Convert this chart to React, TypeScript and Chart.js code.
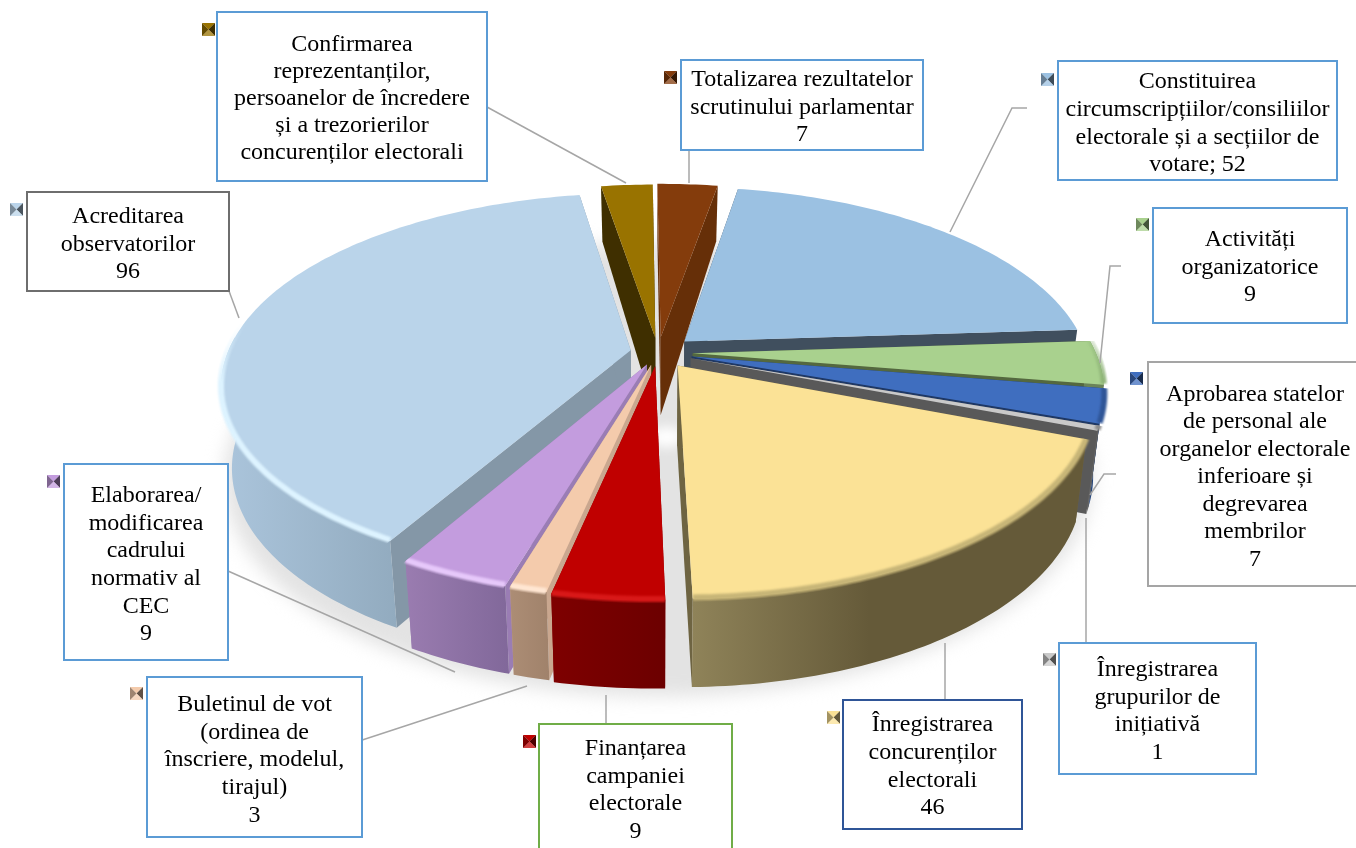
import React, { useEffect, useRef } from "react";
import { Chart, registerables } from "chart.js";

Chart.register(...registerables);

const categories = [
  "Totalizarea rezultatelor scrutinului parlamentar",
  "Constituirea circumscripțiilor/consiliilor electorale și a secțiilor de votare",
  "Activități organizatorice",
  "Aprobarea statelor de personal ale organelor electorale inferioare și degrevarea membrilor",
  "Înregistrarea grupurilor de inițiativă",
  "Înregistrarea concurenților electorali",
  "Finanțarea campaniei electorale",
  "Buletinul de vot (ordinea de înscriere, modelul, tirajul)",
  "Elaborarea/modificarea cadrului normativ al CEC",
  "Acreditarea observatorilor",
  "Confirmarea reprezentanților, persoanelor de încredere și a trezorierilor concurenților electorali",
];
const values = [7, 52, 9, 7, 1, 46, 9, 3, 9, 96, 6];

const labelLines = [
  ["Totalizarea rezultatelor", "scrutinului parlamentar", "7"],
  ["Constituirea", "circumscripțiilor/consiliilor", "electorale și a secțiilor de", "votare; 52"],
  ["Activități", "organizatorice", "9"],
  ["Aprobarea statelor", "de personal ale", "organelor electorale", "inferioare și", "degrevarea", "membrilor", "7"],
  ["Înregistrarea", "grupurilor de", "inițiativă", "1"],
  ["Înregistrarea", "concurenților", "electorali", "46"],
  ["Finanțarea", "campaniei", "electorale", "9"],
  ["Buletinul de vot", "(ordinea de", "înscriere, modelul,", "tirajul)", "3"],
  ["Elaborarea/", "modificarea", "cadrului", "normativ al", "CEC", "9"],
  ["Acreditarea", "observatorilor", "96"],
  ["Confirmarea", "reprezentanților,", "persoanelor de încredere", "și a trezorierilor", "concurenților electorali"],
];

const topColors = ["#843C0C", "#9BC1E2", "#A9D18E", "#3F6EBF", "#C9C9C9", "#FBE296", "#C00000", "#F4CBAC", "#C39CDE", "#BAD4EA", "#997300"];
const wallLight = ["#662F08", "#5F7A94", "#6B8459", "#28497F", "#6A6A6A", "#8F8359", "#7E0000", "#AC8D75", "#9A7CB0", "#ABC5DC", "#3F2F00"];
const wallDark = ["#662F08", "#5F7A94", "#6B8459", "#1F3864", "#5F5F5F", "#655A39", "#6C0000", "#A0826B", "#81689A", "#92ABBF", "#3F2F00"];
const radialColors = ["#662F08", "#404F5E", "#54683F", "#1F3864", "#595959", "#6E6442", "#8A0000", "#C9A78F", "#9A7DB4", "#8497A7", "#3F2F00"];
const rimColors = ["#843C0C", "#9BC1E2", "#8FB478", "#2F5597", "#8A8A8A", "#C7B577", "#D81818", "#FFE6D2", "#E6C8FA", "#DDF3FF", "#997300"];
const explode = [34, 36, 35, 35, 35, 34, 30, 28, 28, 28, 32];
const paintOrder = [9, 10, 1, 2, 3, 4, 0, 8, 7, 6, 5];

const boxRects = [
  [681, 60, 923, 150], [1058, 61, 1337, 180], [1153, 208, 1347, 323], [1148, 362, 1360, 586],
  [1059, 643, 1256, 774], [843, 700, 1022, 829], [539, 724, 732, 852], [147, 677, 362, 837],
  [64, 464, 228, 660], [27, 192, 229, 291], [217, 12, 487, 181],
];
const boxBorders = ["#5B9BD5", "#5B9BD5", "#5B9BD5", "#A5A5A5", "#5B9BD5", "#2F5597", "#70AD47", "#5B9BD5", "#5B9BD5", "#6E6E6E", "#5B9BD5"];
const firstLineY = [80, 82, 240, 394.5, 670, 725, 749, 705, 496, 217, 44.5];
const lineStep = [27.5, 27.7, 27.5, 27.5, 27.5, 27.7, 27.5, 27.6, 27.6, 27.5, 27];
const keyPos = [
  [664, 71], [1041, 73], [1136, 218], [1130, 372], [1043, 653], [827, 711], [523, 735], [130, 687], [47, 475], [10, 203], [202, 23],
];
const leaders = [
  [[689, 151], [689, 183]],
  [[1027, 108], [1012, 108], [950, 232]],
  [[1121, 266], [1110, 266], [1100, 363]],
  [[1116, 474], [1104, 474], [1090, 495]],
  [[1086, 645], [1086, 518]],
  [[945, 700], [945, 643]],
  [[606, 723], [606, 695]],
  [[347, 745], [527, 686]],
  [[228, 571], [455, 672]],
  [[229, 291], [239, 318]],
  [[487, 107], [626, 183]],
];

// view of the pie plane
const cx = 658, cy = 352.5, sx = 403, sy = 186, persp = 0.18, shrink = 0.975;

function project(px: number, py: number, bottom: boolean) {
  const w = 1 - persp * py;
  const X = cx + (sx * px) / w;
  const Y = cy + (sy * py) / w;
  if (!bottom) return [X, Y];
  return [cx + (X - cx) * shrink, Y + 80 + (py > 0 ? 8 : 23) * py];
}

function trace(ctx: CanvasRenderingContext2D, pts: number[][]) {
  ctx.beginPath();
  pts.forEach((p, i) => (i ? ctx.lineTo(p[0], p[1]) : ctx.moveTo(p[0], p[1])));
  ctx.closePath();
}

function arcAngles(a0: number, a1: number, minSin: number) {
  const n = Math.max(2, Math.ceil(((a1 - a0) * 180) / Math.PI));
  const out: number[] = [];
  for (let i = 0; i <= n; i++) {
    const a = a0 + ((a1 - a0) * i) / n;
    if (Math.sin(a) >= minSin) out.push(a);
  }
  return out;
}

function arcPoints(angles: number[], ox: number, oy: number, bottom: boolean, r = 1) {
  return angles.map((a) => project(ox + r * Math.cos(a), oy + r * Math.sin(a), bottom));
}

const pie3d = {
  id: "pie3d",
  beforeDatasetsDraw(chart: any) {
    const ctx: CanvasRenderingContext2D = chart.ctx;
    const arcs = chart.getDatasetMeta(0).data;

    // floor shadow
    ctx.save();
    ctx.filter = "blur(9px)";
    ctx.fillStyle = "#E3E3E3";
    trace(ctx, arcPoints(arcAngles(0, Math.PI * 2, -2), 0, 0.02, true, 1.08));
    ctx.fill();
    ctx.restore();
    ctx.save();
    ctx.filter = "blur(6px)";
    ctx.fillStyle = "#FFFFFF";
    ctx.beginPath();
    const spot = project(0.02, 0.42, false);
    ctx.ellipse(spot[0], spot[1], 17, 10, 0, 0, Math.PI * 2);
    ctx.fill();
    ctx.restore();

    paintOrder.forEach((i) => {
      const el = arcs[i];
      const a0: number = el.startAngle;
      const a1: number = el.endAngle;
      const mid = (a0 + a1) / 2;
      const off = el.options.offset / el.outerRadius;
      const ox = off * Math.cos(mid);
      const oy = off * Math.sin(mid);
      const all = arcAngles(a0, a1, -2);
      const topArc = arcPoints(all, ox, oy, false);
      const botArc = arcPoints(all, ox, oy, true);
      const apexT = project(ox, oy, false);
      const apexB = project(ox, oy, true);

      // radial walls
      ctx.fillStyle = radialColors[i];
      trace(ctx, [apexT, topArc[0], botArc[0], apexB]);
      ctx.fill();
      trace(ctx, [apexT, topArc[topArc.length - 1], botArc[botArc.length - 1], apexB]);
      ctx.fill();

      // outer wall, only where it faces the viewer
      const front = arcAngles(a0, a1, -0.08);
      if (front.length > 1) {
        const ft = arcPoints(front, ox, oy, false);
        const fb = arcPoints(front, ox, oy, true);
        const xs = ft.map((p) => p[0]).concat(fb.map((p) => p[0]));
        const minX = Math.min(...xs);
        const maxX = Math.max(...xs);
        const g = ctx.createLinearGradient(minX, 0, Math.max(maxX, minX + 1), 0);
        g.addColorStop(0, wallLight[i]);
        g.addColorStop(i === 5 ? 0.45 : 1, wallDark[i]);
        g.addColorStop(1, wallDark[i]);
        ctx.fillStyle = g;
        trace(ctx, ft.concat(fb.slice().reverse()));
        ctx.fill();
      }

      // top face
      ctx.fillStyle = topColors[i];
      trace(ctx, [apexT, ...topArc]);
      ctx.fill();

      // soft rounded rim on the front edge, fading out towards the back
      const rimAngles = arcAngles(a0, a1, -0.2);
      if (rimAngles.length > 1 && rimColors[i] !== topColors[i]) {
        ctx.save();
        trace(ctx, [apexT, ...arcPoints(all, ox, oy, false, 1.012)]);
        ctx.clip();
        ctx.filter = "blur(1.2px)";
        const fade = ctx.createLinearGradient(0, cy - 30, 0, cy + 30);
        fade.addColorStop(0, rimColors[i] + "00");
        fade.addColorStop(1, rimColors[i] + "FF");
        ctx.strokeStyle = fade;
        ctx.lineWidth = 6;
        const rim = arcPoints(rimAngles, ox, oy, false);
        ctx.beginPath();
        rim.forEach((p, n) => (n ? ctx.lineTo(p[0], p[1] - 1) : ctx.moveTo(p[0], p[1] - 1)));
        ctx.stroke();
        ctx.restore();
      }
    });
    return false;
  },
  afterDraw(chart: any) {
    const ctx: CanvasRenderingContext2D = chart.ctx;

    // leader lines
    ctx.strokeStyle = "#A6A6A6";
    ctx.lineWidth = 1.5;
    leaders.forEach((l) => {
      ctx.beginPath();
      l.forEach((p, n) => (n ? ctx.lineTo(p[0], p[1]) : ctx.moveTo(p[0], p[1])));
      ctx.stroke();
    });

    // boxes and text
    categories.forEach((_, i) => {
      const [x0, y0, x1, y1] = boxRects[i];
      ctx.fillStyle = "#FFFFFF";
      ctx.fillRect(x0, y0, x1 - x0, y1 - y0);
      ctx.strokeStyle = boxBorders[i];
      ctx.lineWidth = 2;
      ctx.strokeRect(x0, y0, x1 - x0, y1 - y0);

      ctx.fillStyle = "#000000";
      ctx.font = "24px 'Liberation Serif'";
      ctx.textAlign = "center";
      ctx.textBaseline = "middle";
      const center = i === 3 ? 1255 : (x0 + x1) / 2;
      labelLines[i].forEach((t, n) => ctx.fillText(t, center, firstLineY[i] + n * lineStep[i]));

      // bevelled legend key
      const [kx, ky] = keyPos[i];
      const s = 13;
      const c = [kx + s / 2, ky + s / 2];
      const tri = (a: number[], b: number[], col: string, alpha: number) => {
        ctx.fillStyle = col;
        ctx.beginPath();
        ctx.moveTo(a[0], a[1]);
        ctx.lineTo(b[0], b[1]);
        ctx.lineTo(c[0], c[1]);
        ctx.closePath();
        ctx.fill();
        ctx.fillStyle = `rgba(${alpha > 0 ? "255,255,255" : "0,0,0"},${Math.abs(alpha)})`;
        ctx.fill();
      };
      const col = topColors[i];
      tri([kx, ky], [kx + s, ky], col, 0);
      tri([kx + s, ky], [kx + s, ky + s], col, -0.6);
      tri([kx + s, ky + s], [kx, ky + s], col, 0.25);
      tri([kx, ky + s], [kx, ky], col, -0.35);
    });
  },
};

export default function App() {
  const ref = useRef<HTMLCanvasElement>(null);
  useEffect(() => {
    const chart = new Chart(ref.current as HTMLCanvasElement, {
      type: "pie",
      data: {
        labels: categories,
        datasets: [{ data: values, backgroundColor: topColors, offset: explode, borderWidth: 0 }],
      },
      options: {
        responsive: false,
        animation: false,
        rotation: -0.5,
        plugins: { legend: { display: false }, tooltip: { enabled: false } },
      },
      plugins: [pie3d],
    } as any);
    return () => chart.destroy();
  }, []);
  return (
    <div style={{ position: "fixed", left: 0, top: 0, width: 1356, height: 848, overflow: "hidden", background: "#fff" }}>
      <canvas ref={ref} width={1356} height={848} style={{ display: "block" }} />
    </div>
  );
}
